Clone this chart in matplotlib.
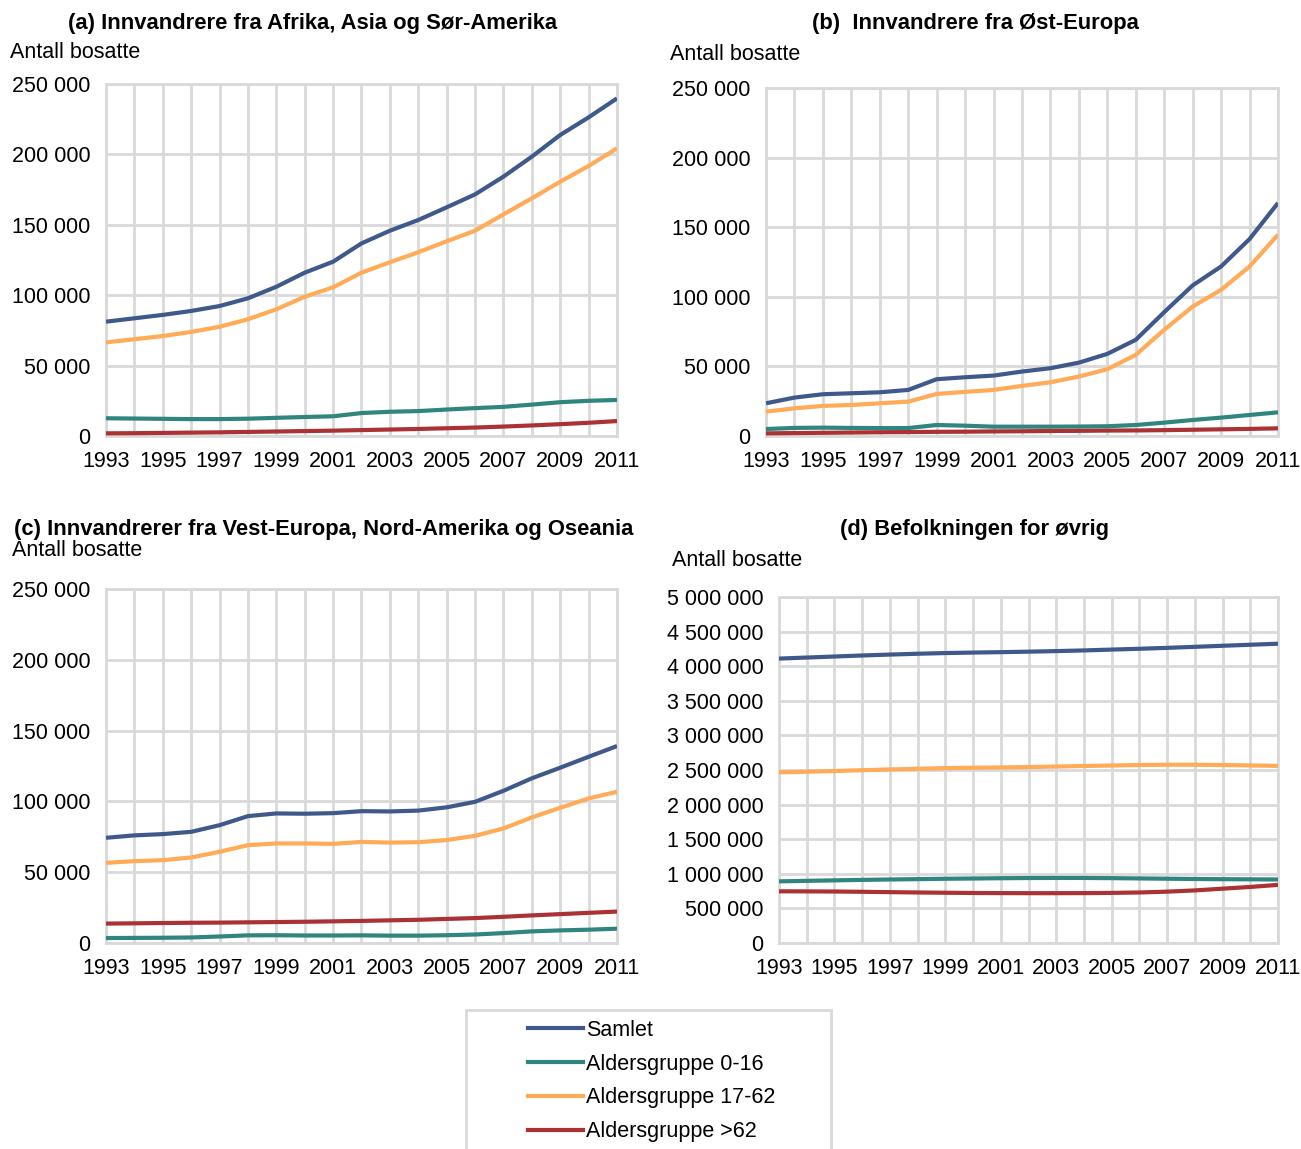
import numpy as np
import matplotlib
matplotlib.use("Agg")
import matplotlib.pyplot as plt
from matplotlib.ticker import FuncFormatter
from matplotlib.lines import Line2D
from matplotlib.patches import Rectangle

plt.rcParams['font.family'] = ['Liberation Sans', 'DejaVu Sans']

years = list(range(1993, 2012))

# (a) Afrika, Asia og Sør-Amerika
a_samlet = [81200, 83600, 86000, 88800, 92300, 97800, 106000, 116000, 123800, 136800,
            145800, 153400, 162400, 171600, 184200, 198400, 213800, 226300, 239800]
a_0_16 = [12600, 12400, 12200, 12000, 12000, 12300, 12900, 13500, 14000, 16300,
          17200, 17700, 18800, 19800, 20700, 22300, 24000, 25000, 25600]
a_17_62 = [66500, 68700, 71000, 73900, 77600, 82900, 90000, 98900, 105600, 116000,
           123400, 130500, 138300, 145800, 157400, 168800, 180600, 191800, 204300]
a_62 = [1900, 2000, 2200, 2400, 2600, 2900, 3200, 3500, 3800, 4200,
        4600, 5000, 5500, 6000, 6700, 7500, 8400, 9400, 10600]

# (b) Øst-Europa
b_samlet = [23500, 27600, 30000, 30700, 31400, 33100, 40800, 42200, 43400, 46300,
            48700, 52700, 59000, 69100, 89000, 108200, 121800, 141500, 167400]
b_0_16 = [5000, 5800, 6000, 5800, 5700, 5700, 7900, 7400, 6700, 6700,
          6700, 6800, 7000, 7900, 9600, 11500, 13200, 15100, 17000]
b_17_62 = [17500, 19900, 21600, 22300, 23500, 24700, 30200, 31700, 33100, 36000,
           38600, 42700, 48000, 58300, 76300, 93000, 105000, 121800, 144600]
b_62 = [1900, 2100, 2300, 2500, 2700, 2800, 3000, 3100, 3300, 3400,
        3600, 3700, 3900, 4000, 4200, 4500, 4800, 5100, 5500]

# (c) Vest-Europa, Nord-Amerika og Oseania
c_samlet = [74300, 76000, 76900, 78500, 83200, 89600, 91500, 91300, 91700, 93100,
            92900, 93500, 95800, 99700, 107500, 116300, 123800, 131500, 139100]
c_0_16 = [3500, 3600, 3700, 3900, 4600, 5400, 5500, 5300, 5300, 5400,
          5200, 5200, 5500, 6000, 7000, 8200, 8900, 9400, 10100]
c_17_62 = [56600, 57800, 58500, 60400, 64400, 69100, 70300, 70300, 70000, 71400,
           70900, 71200, 72700, 75700, 80900, 88700, 95500, 102100, 106800]
c_62 = [13700, 13900, 14100, 14300, 14400, 14600, 14800, 15000, 15300, 15600,
        16000, 16400, 17000, 17600, 18500, 19500, 20400, 21300, 22200]

# (d) Befolkningen for øvrig
d_samlet = [4110000, 4125000, 4140000, 4155000, 4168000, 4180000, 4190000, 4197000, 4203000, 4210000,
            4218000, 4228000, 4240000, 4252000, 4265000, 4280000, 4295000, 4310000, 4325000]
d_0_16 = [891000, 898000, 905000, 912000, 918000, 923000, 928000, 932000, 936000, 939000,
          940000, 940000, 937000, 933000, 929000, 925000, 922000, 920000, 918000]
d_17_62 = [2466000, 2475000, 2485000, 2497000, 2508000, 2518000, 2527000, 2533000, 2537000, 2542000,
           2550000, 2558000, 2565000, 2572000, 2576000, 2576000, 2572000, 2566000, 2560000]
d_62 = [747000, 746000, 744000, 740000, 735000, 730000, 726000, 723000, 721000, 720000,
        720000, 721000, 724000, 730000, 742000, 760000, 785000, 810000, 840000]

series_names = ['Samlet', 'Aldersgruppe 0-16', 'Aldersgruppe 17-62', 'Aldersgruppe >62']
colors = ['#3F5A8A', '#31857F', '#FFAB57', '#AA3234']
grid_color = '#D9D9D9'
fs = 15.5

W, H = 1301, 1149
fig = plt.figure(figsize=(W / 100, H / 100), dpi=100)


def px_axes(left, top, right, bottom):
    return fig.add_axes([left / W, 1 - bottom / H, (right - left) / W, (bottom - top) / H])


def space_fmt(v, pos):
    return f"{int(round(v)):,}".replace(",", " ")


def draw_panel(ax, data, ymax, ystep):
    # gray frame + grid like Excel
    for i, vals in enumerate(data):
        ax.plot(years, vals, color=colors[i], lw=3, solid_capstyle='butt', zorder=3)
    ax.set_xlim(1993, 2011)
    ax.set_ylim(0, ymax)
    ax.set_xticks(years)
    ax.set_xticklabels([str(y) if (y - 1993) % 2 == 0 else '' for y in years])
    ax.set_yticks(np.arange(0, ymax + 1, ystep))
    ax.yaxis.set_major_formatter(FuncFormatter(space_fmt))
    ax.grid(True, color=grid_color, lw=2)
    ax.set_axisbelow(True)
    for s in ax.spines.values():
        s.set_color(grid_color)
        s.set_linewidth(2)
    ax.tick_params(length=0, labelsize=fs, pad=11)
    ax.tick_params(axis='x', pad=11)


ax_a = px_axes(106, 84, 617, 436)
draw_panel(ax_a, [a_samlet, a_0_16, a_17_62, a_62], 250000, 50000)
ax_b = px_axes(766, 88, 1278, 436)
draw_panel(ax_b, [b_samlet, b_0_16, b_17_62, b_62], 250000, 50000)
ax_c = px_axes(106, 589, 617, 943)
draw_panel(ax_c, [c_samlet, c_0_16, c_17_62, c_62], 250000, 50000)
ax_d = px_axes(779, 597, 1278, 943)
draw_panel(ax_d, [d_samlet, d_0_16, d_17_62, d_62], 5000000, 500000)

# titles
tkw = dict(fontsize=15.8, fontweight='bold', ha='center', va='center')
fig.text(313 / W, 1 - 23 / H, '(a) Innvandrere fra Afrika, Asia og Sør-Amerika', **tkw)
fig.text(975 / W, 1 - 23 / H, '(b)  Innvandrere fra Øst-Europa', **tkw)
fig.text(324 / W, 1 - 529 / H, '(c) Innvandrerer fra Vest-Europa, Nord-Amerika og Oseania', **tkw)
fig.text(975 / W, 1 - 530 / H, '(d) Befolkningen for øvrig', **tkw)

lkw = dict(fontsize=fs, ha='left', va='center')
fig.text(10 / W, 1 - 53 / H, 'Antall bosatte', **lkw)
fig.text(670 / W, 1 - 54 / H, 'Antall bosatte', **lkw)
fig.text(12 / W, 1 - 551 / H, 'Antall bosatte', **lkw)
fig.text(672 / W, 1 - 561 / H, 'Antall bosatte', **lkw)

# legend with a manual frame (box runs off the bottom edge)
fig.patches.append(Rectangle((466 / W, -0.01), (831 - 466) / W, (1149 - 1010) / H + 0.01,
                             transform=fig.transFigure, fill=False,
                             edgecolor=grid_color, lw=2))
handles = [Line2D([0], [0], color=c, lw=3) for c in colors]
fig.legend(handles, series_names, loc='upper left', frameon=False,
           bbox_to_anchor=(519 / W, 1 - 1011 / H), fontsize=fs,
           handlelength=2.55, handletextpad=0.15, labelspacing=0.6, borderaxespad=0)

fig.savefig('out.png', dpi=100)
